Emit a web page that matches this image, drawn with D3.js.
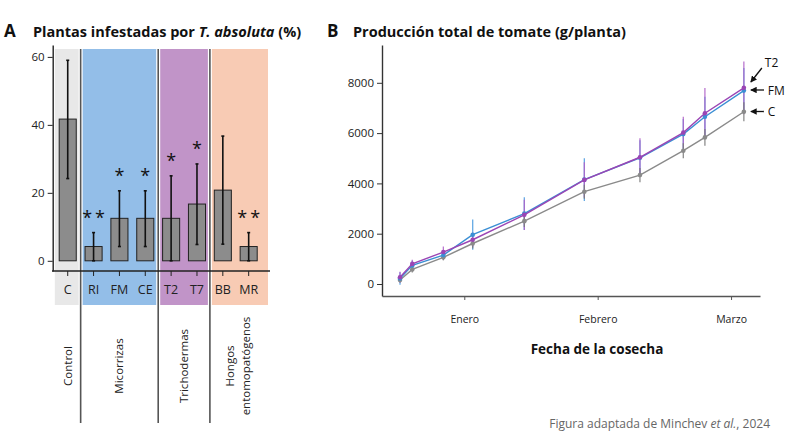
<!DOCTYPE html>
<html>
<head>
<meta charset="utf-8">
<script src="https://cdn.jsdelivr.net/npm/d3@7"></script>
<style>
  html, body { margin: 0; padding: 0; background: #fff; }
  svg { display: block; font-family: "Open Sans", "Noto Sans", sans-serif; }
</style>
</head>
<body>
<svg id="chart" width="792" height="446"></svg>
<script>
// ---------- Panel A data ----------
const categories = ["C", "RI", "FM", "CE", "T2", "T7", "BB", "MR"];
const infested = [41.7, 4.2, 12.5, 12.5, 12.5, 16.7, 20.8, 4.2];
const errLow = [24.2, 0, 4.2, 4.2, 0, 4.8, 4.9, 0];
const errHigh = [59.0, 8.3, 20.6, 20.6, 25.0, 28.5, 36.7, 8.3];
const signif = ["", "**", "*", "*", "*", "*", "", "**"];
const groupNames = ["Control", "Micorrizas", "Trichodermas", "Hongos entomopatógenos"];
const groupMembers = [["C"], ["RI", "FM", "CE"], ["T2", "T7"], ["BB", "MR"]];
const yTicksA = [0, 20, 40, 60];

// ---------- Panel B data ----------
const harvestMonth = [0.518, 0.61, 0.843, 1.063, 1.45, 1.90, 2.317, 2.642, 2.804, 3.096];
const monthTicks = [1, 2, 3];
const monthLabels = ["Enero", "Febrero", "Marzo"];
const seriesNames = ["C", "FM", "T2"];
const prodC  = [160, 580, 1060, 1610, 2500, 3670, 4330, 5300, 5830, 6850];
const prodFM = [220, 740, 1150, 1960, 2800, 4150, 5020, 5960, 6650, 7690];
const prodT2 = [270, 800, 1270, 1760, 2750, 4140, 5040, 6020, 6790, 7800];
const errC  = [100, 120, 120, 200, 230, 280, 280, 300, 330, 380];
const errFM = [250, 180, 180, 600, 650, 850, 700, 600, 800, 900];
const errT2 = [220, 160, 220, 280, 600, 700, 760, 630, 1000, 1050];
const yTicksB = [0, 2000, 4000, 6000, 8000];

const svg = d3.select("#chart");
const font = '"Open Sans", "Noto Sans", sans-serif';

// ================= PANEL A =================
const groupColors = ["#e8e8e8", "#93bee8", "#c194c8", "#f8cbb4"];
const xA = d3.scaleBand().domain(categories).range([54.8, 261.6]).paddingInner(0.34).paddingOuter(0.17);
const yA = d3.scaleLinear().domain([-3, 63.5]).range([271, 45]);
const stepA = xA.step();
const halfGap = xA.paddingInner() * stepA / 2;
const axisEndA = 270;
const bandTop = 49, bandBottom = 305;

const gA = svg.append("g");

// group background bands
groupMembers.forEach((mem, i) => {
  const first = mem[0], last = mem[mem.length - 1];
  const x0 = i === 0 ? xA(first) - halfGap : xA(first) - halfGap + 2;
  const x1 = i === groupMembers.length - 1 ? axisEndA - 2 : xA(last) + xA.bandwidth() + halfGap - 2;
  gA.append("rect").attr("x", x0).attr("y", bandTop).attr("width", x1 - x0).attr("height", bandBottom - bandTop)
    .attr("fill", groupColors[i]);
});
// separators
groupMembers.slice(1).forEach(mem => {
  const xs = xA(mem[0]) - halfGap;
  gA.append("line").attr("x1", xs).attr("x2", xs).attr("y1", bandTop).attr("y2", 423)
    .attr("stroke", "#555").attr("stroke-width", 1.6);
});

// bars
gA.selectAll("rect.bar").data(categories).join("rect").attr("class", "bar")
  .attr("x", d => xA(d)).attr("width", xA.bandwidth())
  .attr("y", (d, i) => yA(infested[i])).attr("height", (d, i) => yA(0) - yA(infested[i]))
  .attr("fill", "#8c8c8c").attr("stroke", "#222").attr("stroke-width", 1);

// error bars + significance
categories.forEach((c, i) => {
  const cx = xA(c) + xA.bandwidth() / 2;
  gA.append("line").attr("x1", cx).attr("x2", cx).attr("y1", yA(errLow[i])).attr("y2", yA(errHigh[i]))
    .attr("stroke", "#111").attr("stroke-width", 1.6);
  [errLow[i], errHigh[i]].forEach(v => {
    gA.append("line").attr("x1", cx - 1.5).attr("x2", cx + 1.5).attr("y1", yA(v)).attr("y2", yA(v))
      .attr("stroke", "#111").attr("stroke-width", 1.6);
  });
  if (signif[i]) {
    gA.append("text").attr("x", cx + (signif[i].length > 1 ? 1.5 : 0)).attr("y", yA(errHigh[i]) - 9)
      .attr("text-anchor", "middle").attr("font-size", 18).attr("fill", "#111")
      .attr("letter-spacing", signif[i].length > 1 ? 3 : 0)
      .text(signif[i]);
  }
});

// axes
const yAxisA = d3.axisLeft(yA).tickValues(yTicksA).tickSize(5).tickPadding(3).tickSizeOuter(0);
const gyA = gA.append("g").attr("transform", "translate(52.7,0)").call(yAxisA);
gyA.select(".domain").attr("stroke", "#222").attr("stroke-width", 1.4);
gyA.selectAll(".tick line").attr("stroke", "#222");
gyA.selectAll(".tick text").attr("font-size", 11.5).attr("font-family", font).attr("fill", "#222");

gA.append("line").attr("x1", 52).attr("x2", axisEndA).attr("y1", 271).attr("y2", 271)
  .attr("stroke", "#222").attr("stroke-width", 1.4);
const xAxisA = d3.axisBottom(xA).tickSize(5).tickPadding(9).tickSizeOuter(0);
const gxA = gA.append("g").attr("transform", "translate(0,271)").call(xAxisA);
gxA.select(".domain").remove();
gxA.selectAll(".tick line").attr("stroke", "#222");
gxA.selectAll(".tick text").attr("font-size", 12.5).attr("font-family", font).attr("fill", "#222");

// group labels (rotated)
groupNames.forEach((name, i) => {
  const mem = groupMembers[i];
  let cx = (xA(mem[0]) + xA(mem[mem.length - 1]) + xA.bandwidth()) / 2;
  const t = gA.append("text").attr("text-anchor", "middle").attr("font-size", 11.5).attr("fill", "#222");
  if (i === 3) {
    t.attr("transform", `translate(${238},366) rotate(-90)`);
    t.append("tspan").attr("x", 0).attr("dy", "-0.35em").text("Hongos");
    t.append("tspan").attr("x", 0).attr("dy", "1.35em").text("entomopatógenos");
  } else {
    if (i === 0) cx = xA(mem[0]) + xA.bandwidth() / 2;
    t.attr("transform", `translate(${cx + 4},366) rotate(-90)`).text(name);
  }
});

// title A
svg.append("text").attr("x", 4).attr("y", 36.5).attr("font-size", 17).attr("font-weight", "bold").attr("fill", "#111").text("A");
const tA = svg.append("text").attr("x", 33).attr("y", 36.5).attr("font-size", 14.5).attr("font-weight", "bold").attr("fill", "#111");
tA.append("tspan").text("Plantas infestadas por ");
tA.append("tspan").attr("font-style", "italic").text("T. absoluta");
tA.append("tspan").text(" (%)");

// ================= PANEL B =================
const xB = d3.scaleLinear().domain([0.383, 3.217]).range([382, 760]);
const yB = d3.scaleLinear().domain([-477, 9503]).range([296, 45]);
const gB = svg.append("g");

const yAxisB = d3.axisLeft(yB).tickValues(yTicksB).tickFormat(d3.format("d")).tickSize(5).tickPadding(3).tickSizeOuter(0);
const gyB = gB.append("g").attr("transform", "translate(382,0)").call(yAxisB);
gyB.select(".domain").attr("stroke", "#333").attr("stroke-width", 1.4);
gyB.selectAll(".tick line").attr("stroke", "#333");
gyB.selectAll(".tick text").attr("font-size", 11.5).attr("font-family", font).attr("fill", "#222");

const xAxisB = d3.axisBottom(xB).tickValues(monthTicks).tickFormat((d, i) => monthLabels[i])
  .tickSize(4).tickPadding(16).tickSizeOuter(0);
const gxB = gB.append("g").attr("transform", "translate(0,296)").call(xAxisB);
gxB.select(".domain").attr("stroke", "#555").attr("stroke-width", 1.6);
gxB.selectAll(".tick line").attr("stroke", "#555");
gxB.selectAll(".tick text").attr("font-size", 10.5).attr("font-family", font).attr("fill", "#222");

gB.append("text").attr("x", 597).attr("y", 354).attr("text-anchor", "middle")
  .attr("font-size", 13.5).attr("font-weight", "bold").attr("fill", "#111").text("Fecha de la cosecha");

const seriesVals = [prodC, prodFM, prodT2];
const seriesErr = [errC, errFM, errT2];
const seriesCol = ["#8a8a8a", "#3b8fd4", "#9b45b4"];
const errCol = ["#7a7a7a", "#4a9be0", "#b061c8"];
const lineGen = d3.line().x(d => xB(d[0])).y(d => yB(d[1]));

// error bars first
[1, 2, 0].forEach(s => {
  harvestMonth.forEach((m, i) => {
    gB.append("line").attr("x1", xB(m)).attr("x2", xB(m))
      .attr("y1", yB(seriesVals[s][i] - seriesErr[s][i])).attr("y2", yB(seriesVals[s][i] + seriesErr[s][i]))
      .attr("stroke", errCol[s]).attr("stroke-width", 1.3).attr("opacity", 0.85);
  });
});
[0, 1, 2].forEach(s => {
  const pts = harvestMonth.map((m, i) => [m, seriesVals[s][i]]);
  gB.append("path").attr("d", lineGen(pts)).attr("fill", "none")
    .attr("stroke", seriesCol[s]).attr("stroke-width", 1.4);
  gB.selectAll(null).data(pts).join("circle")
    .attr("cx", d => xB(d[0])).attr("cy", d => yB(d[1])).attr("r", 2.3).attr("fill", seriesCol[s]);
});

// end labels with arrows
svg.append("defs").append("marker").attr("id", "arr").attr("viewBox", "0 0 10 10")
  .attr("refX", 9).attr("refY", 5).attr("markerWidth", 5).attr("markerHeight", 5).attr("orient", "auto")
  .append("path").attr("d", "M0,0 L10,5 L0,10 z").attr("fill", "#111");
const lastI = harvestMonth.length - 1;
const lx = xB(harvestMonth[lastI]);
// T2
gB.append("line").attr("x1", lx + 18).attr("x2", lx + 7).attr("y1", 68).attr("y2", 82)
  .attr("stroke", "#111").attr("stroke-width", 1.3).attr("marker-end", "url(#arr)");
gB.append("text").attr("x", lx + 21).attr("y", 67).attr("font-size", 12).attr("fill", "#111").text(seriesNames[2]);
// FM
gB.append("line").attr("x1", lx + 20).attr("x2", lx + 7).attr("y1", 90).attr("y2", 90)
  .attr("stroke", "#111").attr("stroke-width", 1.3).attr("marker-end", "url(#arr)");
gB.append("text").attr("x", lx + 24).attr("y", 94.5).attr("font-size", 12).attr("fill", "#111").text(seriesNames[1]);
// C
gB.append("line").attr("x1", lx + 20).attr("x2", lx + 7).attr("y1", 111.5).attr("y2", 111.5)
  .attr("stroke", "#111").attr("stroke-width", 1.3).attr("marker-end", "url(#arr)");
gB.append("text").attr("x", lx + 24).attr("y", 116).attr("font-size", 12).attr("fill", "#111").text(seriesNames[0]);

// title B
svg.append("text").attr("x", 327).attr("y", 37).attr("font-size", 17).attr("font-weight", "bold").attr("fill", "#111").text("B");
svg.append("text").attr("x", 353).attr("y", 36.5).attr("font-size", 14.5).attr("font-weight", "bold").attr("fill", "#111")
  .text("Producción total de tomate (g/planta)");

// credit
const cr = svg.append("text").attr("x", 770).attr("y", 428).attr("text-anchor", "end")
  .attr("font-size", 12).attr("fill", "#666");
cr.append("tspan").text("Figura adaptada de Minchev ");
cr.append("tspan").attr("font-style", "italic").text("et al.");
cr.append("tspan").text(", 2024");
</script>
</body>
</html>
